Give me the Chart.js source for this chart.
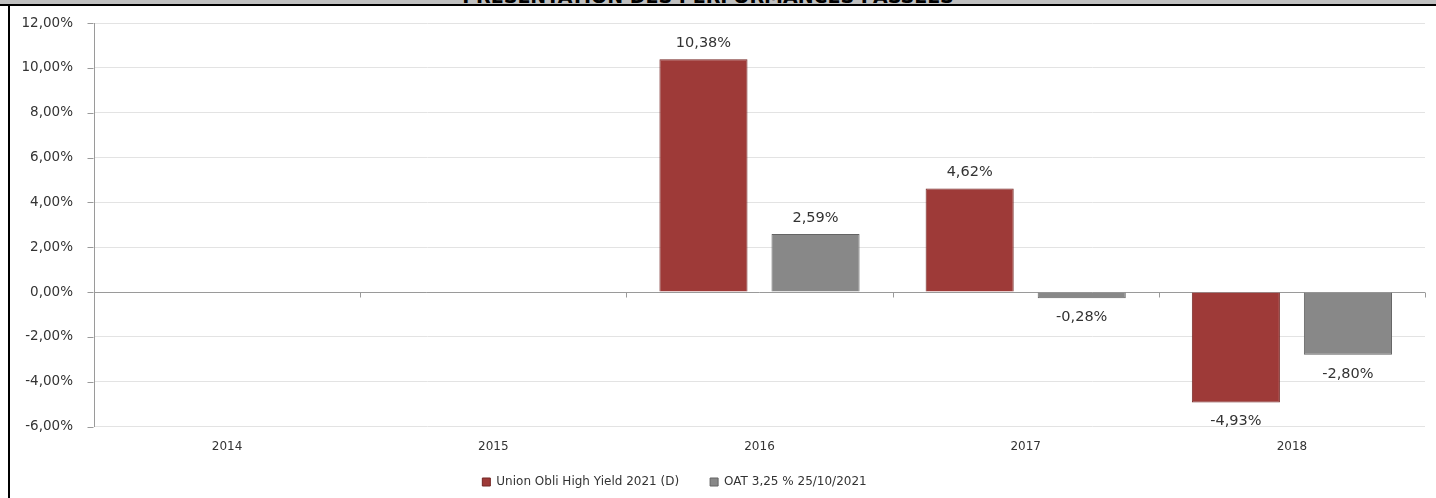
<!DOCTYPE html>
<html>
<head>
<meta charset="utf-8">
<script src="https://cdn.jsdelivr.net/npm/chart.js@4/dist/chart.umd.min.js"></script>
<style>
  html, body { margin: 0; padding: 0; background: #fff; width: 1436px; height: 498px; overflow: hidden; }
  #band { position: absolute; left: 0; top: 0; width: 1436px; height: 4px; background: #c0c0c0; overflow: hidden; }
  #band span { position: absolute; left: -10px; width: 1436px; top: -15px; line-height: 19px; text-align: center; font: bold 19px "DejaVu Sans", sans-serif; color: #000; white-space: nowrap; }
  #topline { position: absolute; left: 0; top: 4px; width: 1436px; height: 2px; background: #000; }
  #leftline { position: absolute; left: 8px; top: 4px; width: 2px; height: 494px; background: #000; }
  #wrap { position: absolute; left: 10px; top: 6px; width: 1426px; height: 492px; }
</style>
</head>
<body>
<div id="band"><span>PRESENTATION DES PERFORMANCES PASSEES</span></div>
<div id="topline"></div>
<div id="leftline"></div>
<div id="wrap"><canvas id="c" width="1426" height="492"></canvas></div>
<script>
const categories = ["2014", "2015", "2016", "2017", "2018"];
const fundName = "Union Obli High Yield 2021 (D)";
const benchName = "OAT 3,25 % 25/10/2021";
const fundValues = [null, null, 10.38, 4.62, -4.93];
const benchValues = [null, null, 2.59, -0.28, -2.80];
const yMin = -6, yMax = 12, yStep = 2;

function fmt(v) { return v.toFixed(2).replace('.', ',') + '%'; }

const FONT = '"DejaVu Sans", sans-serif';
const AXIS_COLOR = '#9a9a9a';

const valueLabels = {
  id: 'valueLabels',
  afterDatasetsDraw(chart) {
    const ctx = chart.ctx;
    ctx.save();
    ctx.font = '14.5px ' + FONT;
    ctx.fillStyle = '#333';
    ctx.textAlign = 'center';
    ctx.textBaseline = 'middle';
    chart.data.datasets.forEach((ds, i) => {
      const meta = chart.getDatasetMeta(i);
      meta.data.forEach((el, j) => {
        const v = ds.data[j];
        if (v === null || v === undefined) return;
        const y = v >= 0 ? el.y - 16 : el.y + 19;
        ctx.fillText(fmt(v), el.x, y);
      });
    });
    ctx.restore();
  }
};

// zero line with category tick marks, and short tick marks on the value axis
const axisMarks = {
  id: 'axisMarks',
  beforeDatasetsDraw(chart) {
    const ctx = chart.ctx;
    const xs = chart.scales.x, ys = chart.scales.y;
    const y0 = Math.round(ys.getPixelForValue(0)) + 0.5;
    ctx.save();
    ctx.strokeStyle = AXIS_COLOR;
    ctx.lineWidth = 1;
    ctx.beginPath();
    ctx.moveTo(xs.left, y0);
    ctx.lineTo(xs.right, y0);
    for (let i = 1; i <= categories.length; i++) {
      const xb = Math.round(xs.getPixelForValue(i - 0.5)) + 0.5;
      ctx.moveTo(xb, y0);
      ctx.lineTo(xb, y0 + 5);
    }
    const xa = Math.round(ys.right) - 0.5;
    ys.ticks.forEach(t => {
      const yy = Math.round(ys.getPixelForValue(t.value)) + 0.5;
      ctx.moveTo(xa - 6, yy);
      ctx.lineTo(xa, yy);
    });
    ctx.stroke();
    ctx.restore();
  }
};

// place the legend like the original (left of centre, near the bottom edge)
const legendPlace = {
  id: 'legendPlace',
  afterLayout(chart) {
    const L = chart.legend;
    if (!L) return;
    const dx = -43;
    const dy = (chart.height - 53) - L.top;
    L.left += dx; L.right += dx;
    L.top += dy;
    L.bottom = chart.height;
    L.height = L.bottom - L.top;
  }
};

new Chart(document.getElementById('c'), {
  type: 'bar',
  data: {
    labels: categories,
    datasets: [
      { label: fundName, data: fundValues, backgroundColor: 'rgb(158,58,56)', borderColor: 'rgb(115,38,36)', borderWidth: 1 },
      { label: benchName, data: benchValues, backgroundColor: 'rgb(136,136,136)', borderColor: 'rgb(100,100,100)', borderWidth: 1 }
    ]
  },
  options: {
    responsive: false,
    animation: false,
    devicePixelRatio: 1,
    categoryPercentage: 0.842,
    barPercentage: 0.786,
    layout: { padding: { top: 17, right: 11, left: 0, bottom: 7 } },
    plugins: {
      title: { display: false },
      tooltip: { enabled: false },
      legend: {
        position: 'bottom',
        maxHeight: 24,
        labels: { boxWidth: 8, boxHeight: 8, padding: 31, color: '#333', font: { family: FONT, size: 12 } }
      }
    },
    scales: {
      x: {
        grid: { display: false, drawTicks: false },
        border: { display: false },
        ticks: { color: '#333', padding: 13, font: { family: FONT, size: 12 } }
      },
      y: {
        min: yMin, max: yMax,
        afterFit(s) { s.width = 84; },
        grid: { color: '#e3e3e3', tickLength: 15, drawTicks: true, tickColor: 'rgba(0,0,0,0)' },
        border: { display: true, color: AXIS_COLOR },
        ticks: { stepSize: yStep, color: '#333', padding: 6, font: { family: FONT, size: 13.5 }, callback: v => fmt(v) }
      }
    }
  },
  plugins: [axisMarks, valueLabels, legendPlace]
});
</script>
</body>
</html>
